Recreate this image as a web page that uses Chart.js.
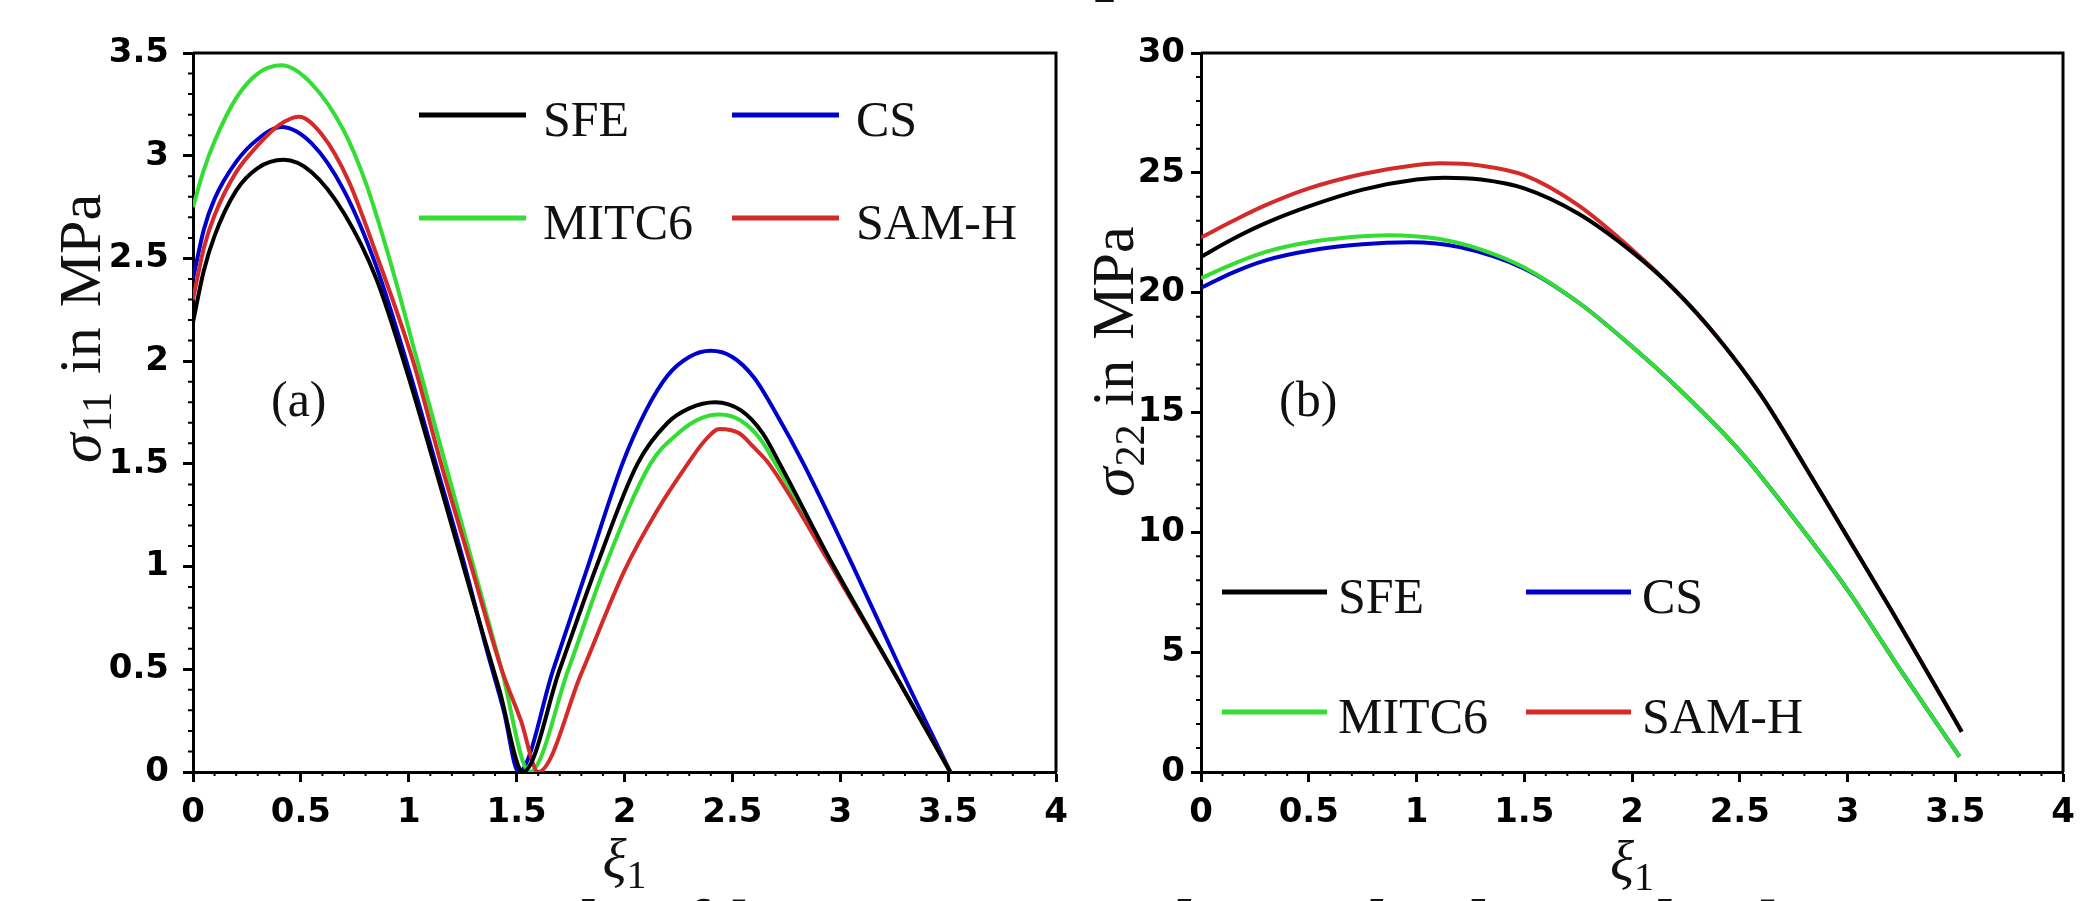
<!DOCTYPE html>
<html>
<head>
<meta charset="utf-8">
<script src="https://cdn.jsdelivr.net/npm/chart.js@4.4.0/dist/chart.umd.min.js"></script>
<style>
  html, body { margin: 0; padding: 0; background: #fff; }
  body { width: 2090px; height: 901px; position: relative; overflow: hidden; }
  canvas { position: absolute; top: 0; }
  #c1 { left: 0; }
  #c2 { left: 1080px; }
  .cut { position: absolute; font: 84px 'Liberation Serif', serif; line-height: 1; white-space: nowrap; color: #111; }
</style>
</head>
<body>
<div class="cut" style="left:1094px; top:-86px;">p</div>
<canvas id="c1" width="1080" height="901"></canvas>
<canvas id="c2" width="1010" height="901"></canvas>
<div class="cut" style="left:291px; top:888px;">Fig. 6: The fibre stresses along the lateral edge</div>
<script>
// series labels (legend order)
var SERIES = ['SFE', 'CS', 'MITC6', 'SAM-H'];
var COLORS = ['#000000', '#0000cc', '#33dd33', '#d42a2a'];

// tick labels
var X_TICKS = [0, 0.5, 1, 1.5, 2, 2.5, 3, 3.5, 4];
var Y11_TICKS = [0, 0.5, 1, 1.5, 2, 2.5, 3, 3.5];
var Y22_TICKS = [0, 5, 10, 15, 20, 25, 30];

// (a) sigma_11
var s11SfeX = [0, 0.05, 0.1, 0.2, 0.3, 0.42, 0.55, 0.7, 0.85, 1.0, 1.15, 1.3, 1.42, 1.53, 1.70, 1.87, 2.06, 2.2, 2.3, 2.42, 2.54, 2.64, 2.72, 2.97, 3.24, 3.51];
var s11SfeY = [2.19, 2.44, 2.61, 2.83, 2.94, 2.98, 2.92, 2.72, 2.40, 1.92, 1.38, 0.83, 0.40, 0, 0.5, 1.0, 1.5, 1.70, 1.77, 1.80, 1.76, 1.65, 1.5, 1.0, 0.5, 0];
var s11CsX = [0, 0.05, 0.1, 0.2, 0.3, 0.41, 0.55, 0.7, 0.85, 1.0, 1.12, 1.25, 1.36, 1.44, 1.51, 1.67, 1.83, 1.99, 2.1, 2.2, 2.3, 2.40, 2.5, 2.6, 2.7, 2.83, 3.06, 3.28, 3.51];
var s11CsY = [2.40, 2.64, 2.79, 2.97, 3.08, 3.14, 3.06, 2.83, 2.46, 1.96, 1.52, 1.04, 0.6, 0.3, 0, 0.5, 1.0, 1.5, 1.76, 1.93, 2.02, 2.05, 2.02, 1.92, 1.75, 1.5, 1.0, 0.5, 0];
var s11MitcX = [0, 0.05, 0.1, 0.2, 0.3, 0.41, 0.55, 0.7, 0.8, 0.91, 1.04, 1.17, 1.30, 1.43, 1.56, 1.74, 1.91, 2.12, 2.25, 2.35, 2.44, 2.54, 2.63, 2.70, 2.97, 3.24, 3.51];
var s11MitcY = [2.75, 2.93, 3.07, 3.28, 3.40, 3.44, 3.35, 3.12, 2.87, 2.5, 2.0, 1.5, 1.0, 0.5, 0, 0.5, 1.0, 1.5, 1.65, 1.72, 1.74, 1.71, 1.62, 1.5, 1.0, 0.5, 0];
var s11SamX = [0, 0.05, 0.1, 0.2, 0.3, 0.4, 0.49, 0.6, 0.72, 0.85, 1.02, 1.15, 1.29, 1.43, 1.52, 1.60, 1.80, 2.0, 2.15, 2.28, 2.37, 2.44, 2.53, 2.60, 2.67, 2.96, 3.24, 3.51];
var s11SamY = [2.30, 2.55, 2.71, 2.92, 3.05, 3.15, 3.19, 3.10, 2.88, 2.52, 2.0, 1.5, 1.0, 0.5, 0.25, 0, 0.48, 0.98, 1.27, 1.48, 1.61, 1.67, 1.65, 1.58, 1.5, 1.0, 0.5, 0];

// (b) sigma_22
var s22SfeX = [0, 0.15, 0.3, 0.5, 0.75, 1.0, 1.13, 1.3, 1.5, 1.75, 2.0, 2.2, 2.4, 2.6, 2.8, 3.0, 3.2, 3.4, 3.53];
var s22SfeY = [21.5, 22.25, 22.9, 23.6, 24.3, 24.72, 24.8, 24.72, 24.35, 23.3, 21.7, 20.1, 18.1, 15.7, 12.8, 9.8, 6.8, 3.7, 1.68];
var s22CsX = [0, 0.15, 0.3, 0.5, 0.75, 0.97, 1.2, 1.5, 1.75, 2.0, 2.25, 2.5, 2.75, 3.0, 3.25, 3.52];
var s22CsY = [20.2, 20.85, 21.35, 21.75, 22.02, 22.1, 21.9, 21.0, 19.6, 17.75, 15.7, 13.4, 10.6, 7.6, 4.2, 0.64];
var s22MitcX = [0, 0.15, 0.3, 0.5, 0.7, 0.87, 1.1, 1.3, 1.5, 1.75, 2.0, 2.25, 2.5, 2.75, 3.0, 3.25, 3.52];
var s22MitcY = [20.6, 21.2, 21.7, 22.1, 22.32, 22.4, 22.25, 21.8, 21.05, 19.6, 17.75, 15.7, 13.4, 10.6, 7.6, 4.2, 0.64];
var s22SamX = [0, 0.15, 0.3, 0.5, 0.75, 1.0, 1.11, 1.3, 1.5, 1.75, 2.0, 2.2, 2.4, 2.6, 2.8, 3.0, 3.2, 3.4, 3.53];
var s22SamY = [22.3, 23.0, 23.65, 24.35, 24.95, 25.33, 25.4, 25.3, 24.9, 23.65, 21.8, 20.1, 18.1, 15.7, 12.8, 9.8, 6.8, 3.7, 1.68];

function pts(xs, ys) {
  return xs.map(function(x, i){ return {x: x, y: ys[i]}; });
}

// drawing order: SFE on top, then SAM-H, MITC6, CS at the bottom
var DRAW_ORDER = [0, 3, 2, 1];

function makeSets(list) {
  return list.map(function(d, i){
    return {
      label: SERIES[i],
      data: pts(d[0], d[1]),
      borderColor: COLORS[i],
      borderWidth: 4,
      pointRadius: 0,
      fill: false,
      cubicInterpolationMode: 'monotone',
      order: DRAW_ORDER[i]
    };
  });
}

var SERIF = "'Liberation Serif', serif";

// draws a run of text pieces, each with its own font and vertical shift
function drawRun(ctx, parts, x, y, align) {
  var total = 0;
  parts.forEach(function(p){ ctx.font = p.font; total += ctx.measureText(p.t).width + (p.gap || 0); });
  var cx = align === 'center' ? x - total / 2 : x;
  parts.forEach(function(p){
    ctx.font = p.font;
    ctx.fillText(p.t, cx, y + (p.dy || 0));
    cx += ctx.measureText(p.t).width + (p.gap || 0);
  });
}

// frame, minor ticks, axis titles, panel tag and legend
var decorations = {
  id: 'decorations',
  afterDatasetsDraw: function(chart, args, o) {
    var ctx = chart.ctx, a = chart.chartArea;
    var xs = chart.scales.x, ys = chart.scales.y;
    ctx.save();
    ctx.strokeStyle = '#000';
    ctx.lineWidth = 3;
    ctx.beginPath();
    ctx.moveTo(a.left, a.top); ctx.lineTo(a.right, a.top); ctx.lineTo(a.right, a.bottom);
    ctx.stroke();

    // minor ticks
    ctx.lineWidth = 2;
    ctx.beginPath();
    var n = Math.round((xs.max - xs.min) / o.xMinor), i, p;
    for (i = 1; i < n; i++) {
      if (i % 5 === 0) continue;
      p = xs.getPixelForValue(xs.min + i * o.xMinor);
      ctx.moveTo(p, a.bottom); ctx.lineTo(p, a.bottom + 4);
    }
    n = Math.round((ys.max - ys.min) / o.yMinor);
    for (i = 1; i < n; i++) {
      if (i % 5 === 0) continue;
      p = ys.getPixelForValue(ys.min + i * o.yMinor);
      ctx.moveTo(a.left, p); ctx.lineTo(a.left - 5, p);
    }
    ctx.stroke();

    ctx.fillStyle = '#111';
    ctx.textBaseline = 'alphabetic';
    ctx.textAlign = 'left';

    // x title
    drawRun(ctx, [
      {t: 'ξ', font: 'italic 56px ' + SERIF},
      {t: '1', font: '40px ' + SERIF, dy: 10}
    ], (a.left + a.right) / 2, o.xTitleY, 'center');

    // y title (rotated)
    ctx.save();
    ctx.translate(o.yTitle[0], o.yTitle[1]);
    ctx.rotate(-Math.PI / 2);
    drawRun(ctx, [
      {t: 'σ', font: 'italic 60px ' + SERIF, gap: 1},
      {t: o.sub, font: '42px ' + SERIF, dy: 11, gap: 18},
      {t: 'in', font: '60px ' + SERIF, gap: 20},
      {t: 'MPa', font: '60px ' + SERIF}
    ], 0, 0, 'left');
    ctx.restore();

    // panel tag
    ctx.font = '50px ' + SERIF;
    ctx.fillText(o.tag, o.tagPos[0], o.tagPos[1]);

    // legend
    var L = o.legend;
    chart.data.datasets.forEach(function(ds, k){
      var col = k % 2, row = Math.floor(k / 2);
      var lx = L.x + col * L.dx, ly = L.y + row * L.dy;
      ctx.strokeStyle = ds.borderColor;
      ctx.lineWidth = 5;
      ctx.beginPath(); ctx.moveTo(lx, ly); ctx.lineTo(lx + L.len, ly); ctx.stroke();
      ctx.font = '50px ' + SERIF;
      ctx.fillText(ds.label, lx + L.len + L.gap, ly + L.base);
    });
    ctx.restore();
  }
};

function makeChart(id, sets, cfg) {
  var tickFont = {family: 'DejaVu Sans', weight: 'bold', size: 34};
  var fmt = function(v){ return String(v); };
  return new Chart(document.getElementById(id), {
    type: 'line',
    data: {datasets: sets},
    plugins: [decorations],
    options: {
      responsive: false,
      animation: false,
      layout: {padding: {top: 53, right: cfg.padRight, left: 0, bottom: 0}},
      plugins: {
        legend: {display: false},
        tooltip: {enabled: false},
        decorations: cfg.deco
      },
      scales: {
        x: {
          type: 'linear', min: 0, max: 4,
          afterBuildTicks: function(s){ s.ticks = X_TICKS.map(function(v){ return {value: v}; }); },
          ticks: {font: tickFont, color: '#000', padding: 11, maxRotation: 0, autoSkip: false, callback: fmt},
          grid: {drawOnChartArea: false, tickLength: 10, tickWidth: 3, tickColor: '#000'},
          border: {width: 3, color: '#000'},
          afterFit: function(s){ s.height = 129; }
        },
        y: {
          type: 'linear', min: 0, max: cfg.yMax,
          afterBuildTicks: function(s){ s.ticks = cfg.yTicks.map(function(v){ return {value: v}; }); },
          ticks: {font: tickFont, color: '#000', padding: cfg.yPad, callback: fmt},
          grid: {drawOnChartArea: false, tickLength: 10, tickWidth: 3, tickColor: '#000'},
          border: {width: 3, color: '#000'},
          afterFit: function(s){ s.width = cfg.yWidth; }
        }
      }
    }
  });
}

makeChart('c1', makeSets([[s11SfeX, s11SfeY], [s11CsX, s11CsY], [s11MitcX, s11MitcY], [s11SamX, s11SamY]]), {
  yMax: 3.5, yTicks: Y11_TICKS, yWidth: 193, padRight: 24, yPad: 14,
  deco: {
    xMinor: 0.1, yMinor: 0.1, xTitleY: 878, yTitle: [100, 463], sub: '11',
    tag: '(a)', tagPos: [271, 416],
    legend: {x: 419, y: 115, dx: 313, dy: 103, len: 107, gap: 17, base: 21}
  }
});

makeChart('c2', makeSets([[s22SfeX, s22SfeY], [s22CsX, s22CsY], [s22MitcX, s22MitcY], [s22SamX, s22SamY]]), {
  yMax: 30, yTicks: Y22_TICKS, yWidth: 121, padRight: 27, yPad: 6,
  deco: {
    xMinor: 0.1, yMinor: 1, xTitleY: 880, yTitle: [53, 497], sub: '22',
    tag: '(b)', tagPos: [199, 416],
    legend: {x: 142, y: 592, dx: 304, dy: 120, len: 105, gap: 11, base: 21}
  }
});
</script>
</body>
</html>
